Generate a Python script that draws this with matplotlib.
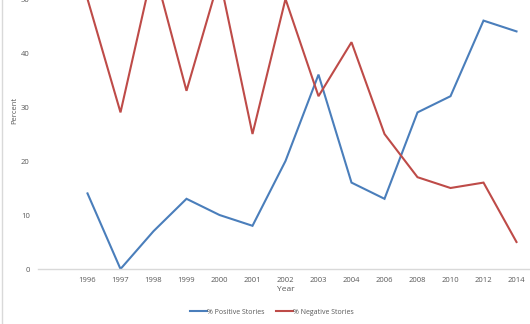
import numpy as np
import matplotlib
matplotlib.use("Agg")
import matplotlib.pyplot as plt
from matplotlib.lines import Line2D

# series
years = ["", "1996", "1997", "1998", "1999", "2000", "2001", "2002",
         "2003", "2004", "2006", "2008", "2010", "2012", "2014"]
positive = [np.nan, 14, 0, 7, 13, 10, 8, 20, 36, 16, 13, 29, 32, 46, 44]
negative = [np.nan, 50, 29, 56, 33, 54, 25, 50, 32, 42, 25, 17, 15, 16, 5]

BLUE = "#4A7EBB"
RED = "#BE4B48"
GREY = "#595959"

plt.rcParams["font.family"] = ["Open Sans", "DejaVu Sans"]

fig = plt.figure(figsize=(5.3, 3.24), dpi=100)
# axes runs past the top edge of the figure, only the lower part is seen
ax = fig.add_axes([38 / 530, 55 / 324, 495 / 530, 1.0])

x = np.arange(len(years))
ax.plot(x, positive, color=BLUE, lw=1.5, solid_joinstyle="miter")
ax.plot(x, negative, color=RED, lw=1.5, solid_joinstyle="miter")

ax.set_xlim(-0.5, len(years) - 0.5)
ax.set_ylim(0, 60)
ax.set_xticks(x)
ax.set_xticklabels(years)
ax.set_yticks([0, 10, 20, 30, 40, 50])

for side in ["top", "right", "left"]:
    ax.spines[side].set_visible(False)
ax.spines["bottom"].set_color("#D9D9D9")
ax.spines["bottom"].set_linewidth(1)
ax.tick_params(axis="both", length=0, labelsize=5.5, labelcolor=GREY)
ax.tick_params(axis="x", pad=6)
ax.tick_params(axis="y", pad=6)

ax.set_xlabel("Year", fontsize=6, color=GREY, labelpad=1)
fig.text(15 / 530, 1 - 110 / 324, "Percent", rotation=90, fontsize=5.5,
         color=GREY, ha="center", va="center")

handles = [Line2D([], [], color=BLUE, lw=1.5),
           Line2D([], [], color=RED, lw=1.5)]
fig.legend(handles, ["% Positive Stories", "% Negative Stories"],
           loc="center", bbox_to_anchor=(272 / 530, 1 - 312 / 324),
           ncol=2, frameon=False, fontsize=5, handlelength=2.4,
           handletextpad=0.1, columnspacing=1.6, labelcolor=GREY)

# faint border on the left edge
fig.add_artist(Line2D([1.5 / 530, 1.5 / 530], [0, 1], color="#D9D9D9",
                      lw=1, transform=fig.transFigure))

fig.savefig("out.png", dpi=100)
